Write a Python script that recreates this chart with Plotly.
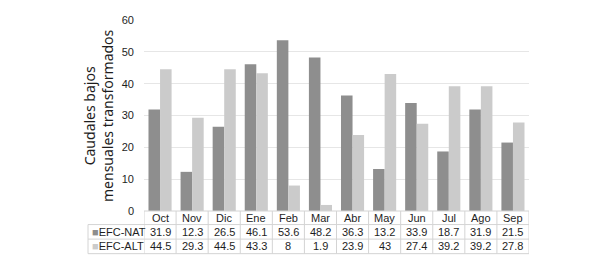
import plotly.graph_objects as go

months = ["Oct", "Nov", "Dic", "Ene", "Feb", "Mar", "Abr", "May", "Jun", "Jul", "Ago", "Sep"]
efc_nat = [31.9, 12.3, 26.5, 46.1, 53.6, 48.2, 36.3, 13.2, 33.9, 18.7, 31.9, 21.5]
efc_alt = [44.5, 29.3, 44.5, 43.3, 8, 1.9, 23.9, 43, 27.4, 39.2, 39.2, 27.8]
nat_labels = ["31.9", "12.3", "26.5", "46.1", "53.6", "48.2", "36.3", "13.2", "33.9", "18.7", "31.9", "21.5"]
alt_labels = ["44.5", "29.3", "44.5", "43.3", "8", "1.9", "23.9", "43", "27.4", "39.2", "39.2", "27.8"]
y_ticks = [0, 10, 20, 30, 40, 50, 60]

C_NAT = "#8e8e8e"
C_ALT = "#cbcbcb"
LINE = "#d4d4d4"
TXT = "#1e1e1e"
FONT = "Liberation Sans, Arial, sans-serif"

OFF = 8  # browser body margin
W, H = 605 - OFF, 264 - OFF
P_LEFT, P_RIGHT, P_TOP, P_BOT = 144, 529, 14, 211
L = P_LEFT - OFF
T = P_TOP - OFF
R = W - (P_RIGHT - OFF)
B = H - (P_BOT - OFF)
PH = P_BOT - P_TOP
PW = P_RIGHT - P_LEFT

def py(pix):
    return (P_BOT - pix) / PH

def px(pix):
    return (pix - P_LEFT) / PW

fig = go.Figure()
fig.add_trace(go.Bar(x=months, y=efc_nat, name="EFC-NAT", marker=dict(color=C_NAT, line=dict(width=0))))
fig.add_trace(go.Bar(x=months, y=efc_alt, name="EFC-ALT", marker=dict(color=C_ALT, line=dict(width=0))))

row_edges = [211, 225, 240, 255]
label_left = 88

shapes = []
shapes.append(dict(type="line", xref="paper", yref="paper", x0=0, x1=1, y0=py(row_edges[0]), y1=py(row_edges[0]), line=dict(color=LINE, width=1)))
for e in row_edges[1:]:
    shapes.append(dict(type="line", xref="paper", yref="paper", x0=px(label_left), x1=1, y0=py(e), y1=py(e), line=dict(color=LINE, width=1)))
shapes.append(dict(type="line", xref="paper", yref="paper", x0=px(label_left), x1=px(label_left), y0=py(row_edges[1]), y1=py(row_edges[3]), line=dict(color=LINE, width=1)))
for i in range(len(months) + 1):
    shapes.append(dict(type="line", xref="x", yref="paper", x0=i - 0.5, x1=i - 0.5, y0=py(row_edges[0]), y1=py(row_edges[3]), line=dict(color=LINE, width=1)))

ann = []
centers = [(row_edges[i] + row_edges[i + 1]) / 2 for i in range(3)]
f = dict(size=11, color=TXT, family=FONT)
for i, m in enumerate(months):
    ann.append(dict(x=m, xref="x", yref="paper", y=py(centers[0]), text=m, showarrow=False, font=f, xanchor="center", yanchor="middle"))
    ann.append(dict(x=m, xref="x", yref="paper", y=py(centers[1]), text=nat_labels[i], showarrow=False, font=f, xanchor="center", yanchor="middle"))
    ann.append(dict(x=m, xref="x", yref="paper", y=py(centers[2]), text=alt_labels[i], showarrow=False, font=f, xanchor="center", yanchor="middle"))

ann.append(dict(x=px(label_left + 2), xref="paper", yref="paper", y=py(centers[1]), text=f"<span style='color:{C_NAT}'>■</span>EFC-NAT", showarrow=False, font=f, xanchor="left", yanchor="middle"))
ann.append(dict(x=px(label_left + 2), xref="paper", yref="paper", y=py(centers[2]), text=f"<span style='color:{C_ALT}'>■</span>EFC-ALT", showarrow=False, font=f, xanchor="left", yanchor="middle"))

ann.append(dict(x=px(98.5), xref="paper", yref="paper", y=py(112.5), text="Caudales bajos<br>mensuales transformados", textangle=-90, showarrow=False,
                font=dict(size=14, color=TXT, family="Noto Sans, Open Sans, sans-serif"), xanchor="center", yanchor="middle"))

fig.update_layout(
    width=W, height=H,
    margin=dict(l=L, r=R, t=T, b=B, pad=0),
    paper_bgcolor="white", plot_bgcolor="white",
    barmode="group", bargap=0.28, bargroupgap=0,
    showlegend=False,
    shapes=shapes, annotations=ann,
    xaxis=dict(showticklabels=False, showgrid=False, zeroline=False, showline=False, ticks="", range=[-0.5, 11.5]),
    yaxis=dict(range=[0, 60], tickvals=y_ticks, showgrid=True, gridcolor="#e6e6e6", gridwidth=1, zeroline=False, showline=False, ticks="", ticklabelstandoff=9,
               ticklabeloverflow="allow", tickfont=dict(size=11, color=TXT, family=FONT)),
)

fig.write_html("out.html")
